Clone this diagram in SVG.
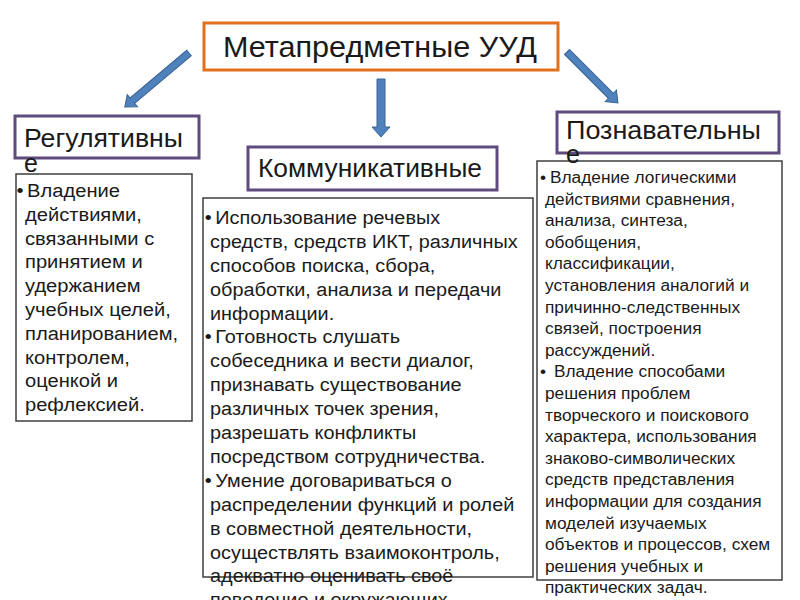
<svg xmlns="http://www.w3.org/2000/svg" width="800" height="600" viewBox="0 0 800 600">
<style>
.hdr{fill:#fff;stroke:#5f4b7f;stroke-width:3}
.main{fill:#fff;stroke:#e2701c;stroke-width:3}
.cbox{fill:#fff;stroke:#3f3f3f;stroke-width:1.5}
.arr{fill:#4f81bd;stroke:#3a6496;stroke-width:1}
text{font-family:"Liberation Sans",Arial,sans-serif;fill:#1a1a1a}
.t{font-size:25px}
.tm{font-size:30px}
.l{font-size:19px}
.m{font-size:19px}
.r{font-size:17.3px}
</style>
<rect width="800" height="600" fill="#fff"/>
<g id="connectors">
<polygon class="arr" transform="translate(189,53) rotate(49.9)" points="-3.5,0 3.5,0 3.5,74 8,74 0,84 -8,74 -3.5,74"/>
<polygon class="arr" points="377,79 385,79 385,127 390,127 381,137 372,127 377,127"/>
<polygon class="arr" transform="translate(567,52) rotate(-45)" points="-3.5,0 3.5,0 3.5,62 8,62 0,72 -8,62 -3.5,62"/>
</g>
<g id="main">
<rect class="main" x="204" y="23" width="354" height="47"/>
<text class="tm" x="223" y="57" textLength="314" lengthAdjust="spacingAndGlyphs">Метапредметные УУД</text>
</g>
<g id="box-reg">
<rect class="cbox" x="16" y="174" width="176" height="247"/>
<g transform="matrix(1.06 0 0 1 -1.5 0)">
<text class="l" x="17" y="197">•</text>
<text class="l" x="27" y="197">Владение</text>
<text class="l" x="25" y="220.8">действиями,</text>
<text class="l" x="25" y="244.6">связанными с</text>
<text class="l" x="25" y="268.4">принятием и</text>
<text class="l" x="25" y="292.2">удержанием</text>
<text class="l" x="25" y="316">учебных целей,</text>
<text class="l" x="25" y="339.8">планированием,</text>
<text class="l" x="25" y="363.6">контролем,</text>
<text class="l" x="25" y="387.4">оценкой и</text>
<text class="l" x="25" y="411.2">рефлексией.</text>
</g>
</g>
<g id="box-kom">
<rect class="cbox" x="203" y="198" width="330" height="379"/>
<g transform="matrix(1.045 0 0 1 -9.4 0)">
<text class="m" x="205" y="224">•</text>
<text class="m" x="215" y="224">Использование речевых</text>
<text class="m" x="210" y="247.9">средств, средств ИКТ, различных</text>
<text class="m" x="210" y="271.8">способов поиска, сбора,</text>
<text class="m" x="210" y="295.7">обработки, анализа и передачи</text>
<text class="m" x="210" y="319.6">информации.</text>
<text class="m" x="205" y="343.5">•</text>
<text class="m" x="215" y="343.5">Готовность слушать</text>
<text class="m" x="210" y="367.4">собеседника и вести диалог,</text>
<text class="m" x="210" y="391.3">признавать существование</text>
<text class="m" x="210" y="415.2">различных точек зрения,</text>
<text class="m" x="210" y="439.1">разрешать конфликты</text>
<text class="m" x="210" y="463">посредством сотрудничества.</text>
<text class="m" x="205" y="486.9">•</text>
<text class="m" x="215" y="486.9">Умение договариваться о</text>
<text class="m" x="210" y="510.8">распределении функций и ролей</text>
<text class="m" x="210" y="534.7">в совместной деятельности,</text>
<text class="m" x="210" y="558.6">осуществлять взаимоконтроль,</text>
<text class="m" x="210" y="582.5">адекватно оценивать своё</text>
<text class="m" x="210" y="606.4">поведение и окружающих</text>
</g>
</g>
<g id="box-poz">
<rect class="cbox" x="537" y="161" width="245" height="419"/>
<text class="r" x="540" y="183">•</text>
<text class="r" x="550" y="183">Владение логическими</text>
<text class="r" x="545" y="204.6">действиями сравнения,</text>
<text class="r" x="545" y="226.2">анализа, синтеза,</text>
<text class="r" x="545" y="247.8">обобщения,</text>
<text class="r" x="545" y="269.4">классификации,</text>
<text class="r" x="545" y="291">установления аналогий и</text>
<text class="r" x="545" y="312.6">причинно-следственных</text>
<text class="r" x="545" y="334.2">связей, построения</text>
<text class="r" x="545" y="355.8">рассуждений.</text>
<text class="r" x="540" y="377.4">•</text>
<text class="r" x="554" y="377.4">Владение способами</text>
<text class="r" x="545" y="399">решения проблем</text>
<text class="r" x="545" y="420.6">творческого и поискового</text>
<text class="r" x="545" y="442.2">характера, использования</text>
<text class="r" x="545" y="463.8">знаково-символических</text>
<text class="r" x="545" y="485.4">средств представления</text>
<text class="r" x="545" y="507">информации для создания</text>
<text class="r" x="545" y="528.6">моделей изучаемых</text>
<text class="r" x="545" y="550.2">объектов и процессов, схем</text>
<text class="r" x="545" y="571.8">решения учебных и</text>
<text class="r" x="545" y="593.4">практических задач.</text>
</g>
<g id="hdr-reg">
<rect class="hdr" x="15" y="116" width="184" height="42"/>
<text class="t" x="24" y="147" textLength="159" lengthAdjust="spacingAndGlyphs">Регулятивны</text>
<text class="t" x="24" y="172">е</text>
</g>
<g id="hdr-kom">
<rect class="hdr" x="248" y="147" width="249" height="43"/>
<text class="t" x="258" y="177" textLength="224" lengthAdjust="spacingAndGlyphs">Коммуникативные</text>
</g>
<g id="hdr-poz">
<rect class="hdr" x="557" y="112" width="222" height="41"/>
<text class="t" x="566" y="139" textLength="195" lengthAdjust="spacingAndGlyphs">Познавательны</text>
<text class="t" x="566" y="163">е</text>
</g>
</svg>
